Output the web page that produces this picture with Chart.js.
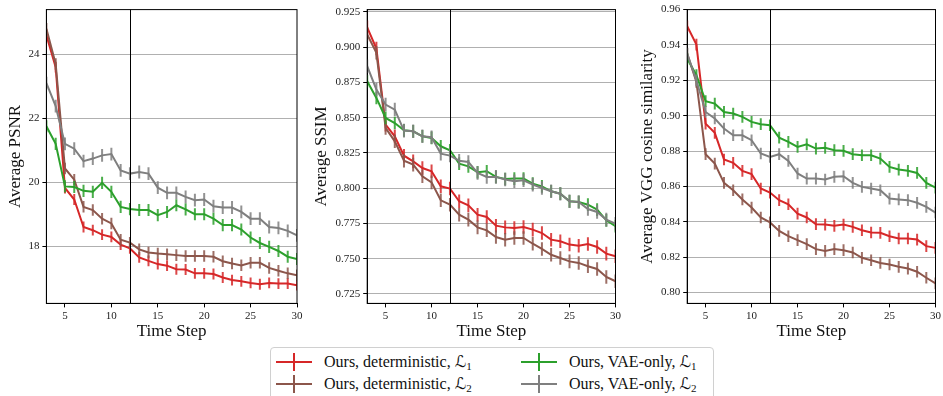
<!DOCTYPE html>
<html lang="en">
<head>
    <meta charset="UTF-8">
    <title>Time step metrics</title>
    <script src="https://cdn.jsdelivr.net/npm/chart.js"></script>
    <style>
        body { margin: 0; background: #fff; }
        #page { position: relative; width: 943px; height: 396px; overflow: hidden; font-family: "Liberation Serif", "DejaVu Serif", serif; }
        .panel { position: absolute; top: 0; }
        .legend {
            position: absolute; left: 270px; top: 347px; width: 444px; height: 60px;
            border: 1px solid #d0d0d0; border-radius: 4px; box-sizing: border-box;
        }
        .item { position: absolute; font-size: 16px; line-height: 20px; color: #111; white-space: nowrap; }
        .item .sym { position: absolute; left: 0; top: 9px; width: 36px; height: 2px; }
        .item .sym::after { content: ""; position: absolute; left: 17px; top: -8px; width: 2px; height: 18px; background: inherit; }
        .item .txt { position: absolute; left: 48px; top: 0; }
        .item sub { font-size: 11px; vertical-align: -3px; line-height: 0; }
        .script { font-family: "DejaVu Sans", serif; }
    </style>
</head>
<body>
<div id="page">
    <canvas class="panel" id="psnrChart" width="310" height="345" style="left:0px"></canvas>
    <canvas class="panel" id="ssimChart" width="318" height="345" style="left:305px"></canvas>
    <canvas class="panel" id="vggChart" width="318" height="345" style="left:625px"></canvas>

    <div class="legend">
        <div class="item" style="left:5px; top:4px"><span class="sym" style="background:#d62728"></span><span class="txt">Ours, deterministic, <span class="script">ℒ</span><sub>1</sub></span></div>
        <div class="item" style="left:5px; top:26px"><span class="sym" style="background:#8c564b"></span><span class="txt">Ours, deterministic, <span class="script">ℒ</span><sub>2</sub></span></div>
        <div class="item" style="left:250px; top:4px"><span class="sym" style="background:#2ca02c"></span><span class="txt">Ours, VAE-only, <span class="script">ℒ</span><sub>1</sub></span></div>
        <div class="item" style="left:250px; top:26px"><span class="sym" style="background:#7f7f7f"></span><span class="txt">Ours, VAE-only, <span class="script">ℒ</span><sub>2</sub></span></div>
    </div>
</div>

<script>
    // time steps 3..30
    const steps = [3, 4, 5, 6, 7, 8, 9, 10, 11, 12, 13, 14, 15, 16, 17, 18, 19, 20, 21, 22, 23, 24, 25, 26, 27, 28, 29, 30];
    const xTicks = [5, 10, 15, 20, 25, 30];
    const markerStep = 12;

    const seriesNames = ['Ours, deterministic, L1', 'Ours, deterministic, L2', 'Ours, VAE-only, L1', 'Ours, VAE-only, L2'];
    const seriesColors = ['#d62728', '#8c564b', '#2ca02c', '#7f7f7f'];

    // PSNR
    const psnrDetL1 = [24.6, 23.6, 19.82, 19.46, 18.6, 18.5, 18.36, 18.29, 18.05, 17.93, 17.65, 17.54, 17.44, 17.39, 17.28, 17.27, 17.15, 17.15, 17.13, 17.02, 16.94, 16.9, 16.85, 16.81, 16.85, 16.83, 16.83, 16.78];
    const psnrDetL2 = [24.8, 23.7, 20.43, 20.08, 19.23, 19.13, 18.86, 18.71, 18.2, 18.11, 17.9, 17.8, 17.77, 17.75, 17.72, 17.69, 17.69, 17.69, 17.67, 17.53, 17.46, 17.4, 17.48, 17.48, 17.32, 17.23, 17.15, 17.09];
    const psnrVaeL1 = [21.75, 21.2, 19.87, 19.85, 19.73, 19.7, 19.98, 19.7, 19.23, 19.16, 19.13, 19.13, 18.97, 19.07, 19.28, 19.15, 19.0, 19.0, 18.86, 18.66, 18.66, 18.52, 18.27, 18.1, 17.98, 17.85, 17.67, 17.6];
    const psnrVaeL2 = [23.1, 22.38, 21.2, 21.05, 20.66, 20.74, 20.84, 20.88, 20.37, 20.27, 20.32, 20.27, 19.83, 19.67, 19.67, 19.54, 19.44, 19.46, 19.25, 19.21, 19.21, 19.07, 18.86, 18.86, 18.6, 18.57, 18.48, 18.34];
    const psnrErr = [0.17, 0.18, 0.19, 0.2];
    const psnrTicks = [18, 20, 22, 24];

    // SSIM
    const ssimDetL1 = [0.914, 0.899, 0.845, 0.8368, 0.823, 0.819, 0.8143, 0.812, 0.8013, 0.7997, 0.7907, 0.7878, 0.7812, 0.7796, 0.7734, 0.7722, 0.7718, 0.7725, 0.7706, 0.7682, 0.7635, 0.7623, 0.76, 0.7592, 0.7604, 0.7583, 0.7536, 0.7517];
    const ssimDetL2 = [0.909, 0.896, 0.8427, 0.8332, 0.8195, 0.8167, 0.8084, 0.8041, 0.7914, 0.7883, 0.7812, 0.7777, 0.7722, 0.7701, 0.7654, 0.7635, 0.7647, 0.7647, 0.7606, 0.7569, 0.7528, 0.7505, 0.7481, 0.747, 0.7446, 0.7427, 0.737, 0.734];
    const ssimVaeL1 = [0.8758, 0.864, 0.8498, 0.8462, 0.841, 0.8403, 0.8368, 0.8356, 0.8297, 0.8269, 0.8174, 0.8155, 0.8113, 0.812, 0.808, 0.8065, 0.8068, 0.8068, 0.8032, 0.8013, 0.7978, 0.7961, 0.7907, 0.7902, 0.7883, 0.7848, 0.7772, 0.773];
    const ssimVaeL2 = [0.8865, 0.8699, 0.8593, 0.8557, 0.8408, 0.8403, 0.8368, 0.8361, 0.8245, 0.8231, 0.8195, 0.8186, 0.8108, 0.808, 0.808, 0.8061, 0.8049, 0.8056, 0.8025, 0.8001, 0.7978, 0.7961, 0.7907, 0.7902, 0.7852, 0.7831, 0.7777, 0.7748];
    const ssimErr = [0.0048, 0.0048, 0.0045, 0.0048];
    const ssimTicks = [0.725, 0.75, 0.775, 0.8, 0.825, 0.85, 0.875, 0.9, 0.925];

    // VGG cosine similarity
    const vggDetL1 = [0.9506, 0.9402, 0.8955, 0.8903, 0.8752, 0.8733, 0.8688, 0.8669, 0.8588, 0.8565, 0.8522, 0.8499, 0.8446, 0.8424, 0.8386, 0.8384, 0.8377, 0.8384, 0.8371, 0.8352, 0.8339, 0.8337, 0.8318, 0.8305, 0.8305, 0.8299, 0.8262, 0.8252];
    const vggDetL2 = [0.9351, 0.9191, 0.8782, 0.8729, 0.862, 0.8578, 0.8526, 0.848, 0.8424, 0.8396, 0.8348, 0.8318, 0.8296, 0.8273, 0.8245, 0.8235, 0.8245, 0.8239, 0.8226, 0.8196, 0.8182, 0.8167, 0.8158, 0.8145, 0.8135, 0.8117, 0.8083, 0.8051];
    const vggVaeL1 = [0.9323, 0.9229, 0.9082, 0.9068, 0.9021, 0.9012, 0.8993, 0.8965, 0.8952, 0.8946, 0.8876, 0.8852, 0.8823, 0.8838, 0.8814, 0.8818, 0.8805, 0.8801, 0.8782, 0.8776, 0.8776, 0.8757, 0.871, 0.8695, 0.8688, 0.8676, 0.862, 0.8593];
    const vggVaeL2 = [0.935, 0.92, 0.9021, 0.8984, 0.8927, 0.8889, 0.8889, 0.8861, 0.8786, 0.8767, 0.8782, 0.8744, 0.8673, 0.8644, 0.8644, 0.8639, 0.8654, 0.8657, 0.862, 0.8597, 0.8588, 0.8578, 0.8531, 0.8526, 0.8522, 0.8507, 0.8484, 0.8452];
    const vggErr = [0.0033, 0.0033, 0.0033, 0.0033];
    const vggTicks = [0.80, 0.82, 0.84, 0.86, 0.88, 0.90, 0.92, 0.94, 0.96];

    const serif = '"Liberation Serif", "DejaVu Serif", serif';

    function withAlpha(hex, a) {
        const n = parseInt(hex.slice(1), 16);
        return `rgba(${(n >> 16) & 255}, ${(n >> 8) & 255}, ${n & 255}, ${a})`;
    }

    // vertical error bars, drawn right after each line
    const errorBars = {
        id: 'errorBars',
        afterDatasetDraw(chart, args) {
            const ds = chart.data.datasets[args.index];
            const { ctx, chartArea, scales: { x, y } } = chart;
            ctx.save();
            ctx.beginPath();
            ctx.rect(chartArea.left, chartArea.top, chartArea.right - chartArea.left, chartArea.bottom - chartArea.top);
            ctx.clip();
            ctx.strokeStyle = withAlpha(ds.borderColor, 0.85);
            ctx.lineWidth = 2;
            ds.data.forEach(p => {
                const px = x.getPixelForValue(p.x);
                ctx.beginPath();
                ctx.moveTo(px, y.getPixelForValue(p.y - ds.err));
                ctx.lineTo(px, y.getPixelForValue(p.y + ds.err));
                ctx.stroke();
            });
            ctx.restore();
        }
    };

    // frame and the marker line
    const frame = {
        id: 'frame',
        afterDatasetsDraw(chart) {
            const { ctx, chartArea: a, scales: { x } } = chart;
            ctx.save();
            ctx.strokeStyle = '#000';
            ctx.lineWidth = 1;
            const mx = Math.round(x.getPixelForValue(markerStep)) + 0.5;
            ctx.beginPath();
            ctx.moveTo(mx, a.top);
            ctx.lineTo(mx, a.bottom);
            ctx.stroke();
            ctx.strokeRect(a.left, a.top, a.right - a.left, a.bottom - a.top);
            ctx.restore();
        }
    };

    function makePanel(id, title, series, errs, yTicks, yMin, yMax, digits, yWidth, padRight, titlePad) {
        const datasets = series.map((vals, i) => ({
            label: seriesNames[i],
            data: vals.map((v, j) => ({ x: steps[j], y: v })),
            borderColor: seriesColors[i],
            borderWidth: 2,
            pointRadius: 0,
            tension: 0,
            err: errs[i],
            order: series.length - i
        }));

        new Chart(document.getElementById(id), {
            type: 'line',
            data: { datasets },
            options: {
                responsive: false,
                animation: false,
                layout: { padding: { top: 9.3, right: padRight, left: 0, bottom: 0 } },
                plugins: { legend: { display: false }, tooltip: { enabled: false } },
                scales: {
                    x: {
                        type: 'linear',
                        min: 3,
                        max: 30,
                        afterBuildTicks: s => { s.ticks = xTicks.map(v => ({ value: v })); },
                        afterFit: s => { s.height = 41.6; },
                        grid: { drawOnChartArea: false, tickLength: 4, tickColor: '#000' },
                        border: { color: '#000' },
                        ticks: { color: '#222', font: { family: serif, size: 11 }, padding: 2, maxRotation: 0 },
                        title: { display: true, text: 'Time Step', color: '#111', font: { family: serif, size: 17, lineHeight: 1.2 }, padding: { top: 0, bottom: 3 } }
                    },
                    y: {
                        type: 'linear',
                        min: yMin,
                        max: yMax,
                        afterBuildTicks: s => { s.ticks = yTicks.map(v => ({ value: v })); },
                        afterFit: s => { s.width = yWidth; },
                        grid: { color: '#b0b0b0', lineWidth: 1, tickLength: 4, tickColor: '#000' },
                        border: { color: '#000' },
                        ticks: { color: '#222', font: { family: serif, size: 11 }, padding: 3, callback: v => v.toFixed(digits) },
                        title: { display: true, text: title, color: '#111', font: { family: serif, size: 17, lineHeight: 1.2 }, padding: { top: titlePad, bottom: 0 } }
                    }
                }
            },
            plugins: [errorBars, frame]
        });
    }

    makePanel('psnrChart', 'Average PSNR', [psnrDetL1, psnrDetL2, psnrVaeL1, psnrVaeL2], psnrErr, psnrTicks, 16.21, 25.4, 0, 46.4, 13, 5);
    makePanel('ssimChart', 'Average SSIM', [ssimDetL1, ssimDetL2, ssimVaeL1, ssimVaeL2], ssimErr, ssimTicks, 0.7183, 0.9266, 3, 62.2, 6, 6);
    makePanel('vggChart', 'Average VGG cosine similarity', [vggDetL1, vggDetL2, vggVaeL1, vggVaeL2], vggErr, vggTicks, 0.7938, 0.96, 2, 62.2, 6, 12);
</script>
</body>
</html>
